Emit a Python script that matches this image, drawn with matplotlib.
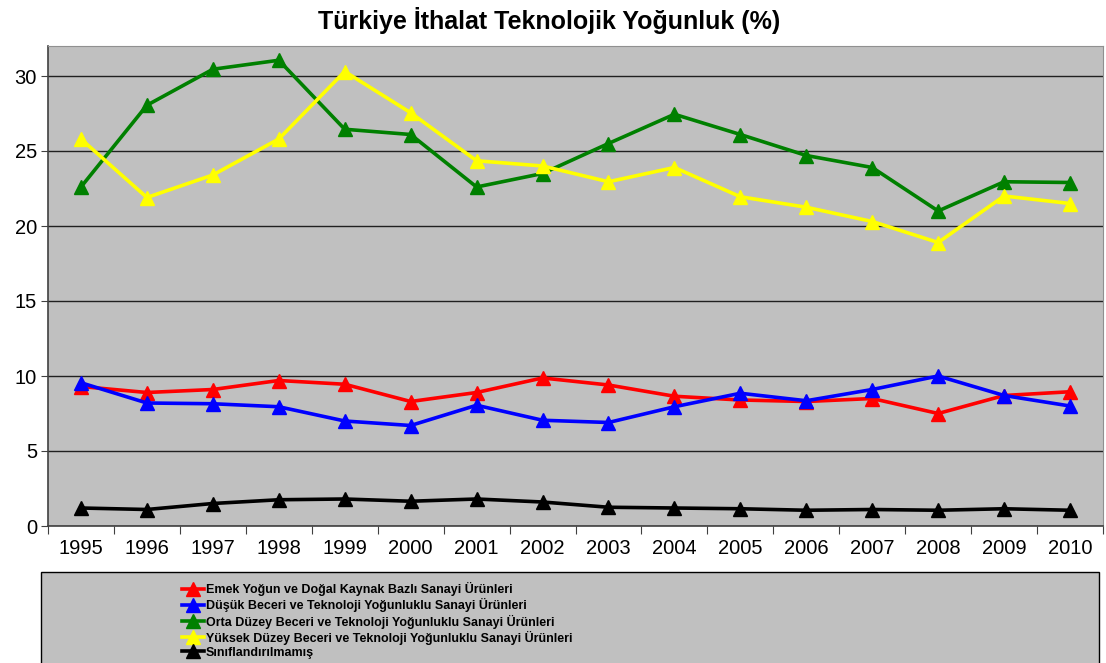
import matplotlib.pyplot as plt
from matplotlib.patches import Rectangle

years = ['1995', '1996', '1997', '1998', '1999', '2000', '2001', '2002',
         '2003', '2004', '2005', '2006', '2007', '2008', '2009', '2010']

emek = [9.3, 8.9, 9.1, 9.7, 9.45, 8.3, 8.9, 9.87, 9.4, 8.65, 8.4, 8.3, 8.5, 7.5, 8.7, 8.95]
dusuk = [9.55, 8.2, 8.15, 7.95, 7.0, 6.7, 8.05, 7.05, 6.9, 7.95, 8.85, 8.35, 9.1, 10.0, 8.7, 8.0]
orta = [22.6, 28.05, 30.45, 31.05, 26.45, 26.1, 22.6, 23.5, 25.5, 27.45, 26.1, 24.7, 23.9, 21.0, 22.95, 22.9]
yuksek = [25.8, 21.9, 23.4, 25.8, 30.3, 27.55, 24.35, 24.0, 22.95, 23.9, 21.95, 21.25, 20.3, 18.9, 22.0, 21.5]
sinif = [1.2, 1.1, 1.5, 1.75, 1.8, 1.65, 1.8, 1.6, 1.25, 1.2, 1.15, 1.05, 1.1, 1.05, 1.15, 1.05]

names = ['Emek Yoğun ve Doğal Kaynak Bazlı Sanayi Ürünleri',
         'Düşük Beceri ve Teknoloji Yoğunluklu Sanayi Ürünleri',
         'Orta Düzey Beceri ve Teknoloji Yoğunluklu Sanayi Ürünleri',
         'Yüksek Düzey Beceri ve Teknoloji Yoğunluklu Sanayi Ürünleri',
         'Sınıflandırılmamış']
colors = ['#ff0000', '#0000ff', '#008000', '#ffff00', '#000000']

plt.rcParams['font.family'] = ['Liberation Sans', 'DejaVu Sans']

fig = plt.figure(figsize=(11.06, 6.63), dpi=100)
ax = fig.add_axes([48 / 1106, 1 - 526 / 663, 1055 / 1106, 480 / 663])
ax.set_facecolor('#c0c0c0')

x = range(len(years))
handles = []
for vals, name, c in zip([emek, dusuk, orta, yuksek, sinif], names, colors):
    h, = ax.plot(x, vals, color=c, lw=2.6, marker='^', markersize=10, label=name)
    handles.append(h)

ax.set_xlim(-0.5, len(years) - 0.5)
ax.set_ylim(0, 32)
ax.set_yticks(range(0, 31, 5))
ax.yaxis.grid(True, color='#202020', lw=1)
ax.set_axisbelow(True)
ax.tick_params(axis='y', labelsize=14.5, length=5, color='#404040', pad=3)

# category labels centred, tick marks on the boundaries
ax.set_xticks([i + 0.5 for i in range(-1, len(years))])
ax.set_xticklabels([])
ax.set_xticks(list(x), minor=True)
ax.set_xticklabels(years, minor=True)
ax.tick_params(axis='x', which='major', length=6, color='#404040')
ax.tick_params(axis='x', which='minor', length=0, labelsize=14.5, pad=9)

for s in ['left', 'bottom']:
    ax.spines[s].set_color('#404040')
    ax.spines[s].set_linewidth(1.2)
for s in ['top', 'right']:
    ax.spines[s].set_color('#909090')

fig.text(549 / 1106, 1 - 21 / 663, 'Türkiye İthalat Teknolojik Yoğunluk (%)',
         ha='center', va='center', fontsize=18, fontweight='bold')

# legend panel
fig.patches.append(Rectangle((41 / 1106, -0.05), 1058 / 1106, (663 - 572) / 663 + 0.05,
                             transform=fig.transFigure, facecolor='#c0c0c0',
                             edgecolor='black', lw=1))
fig.legend(handles=handles, loc='upper left', bbox_to_anchor=(176 / 1106, 1 - 576 / 663),
           frameon=False, handlelength=1.7, handletextpad=0.2, labelspacing=0.17,
           borderpad=0, prop={'weight': 'bold', 'size': 9})

fig.savefig('out.png', dpi=100)
